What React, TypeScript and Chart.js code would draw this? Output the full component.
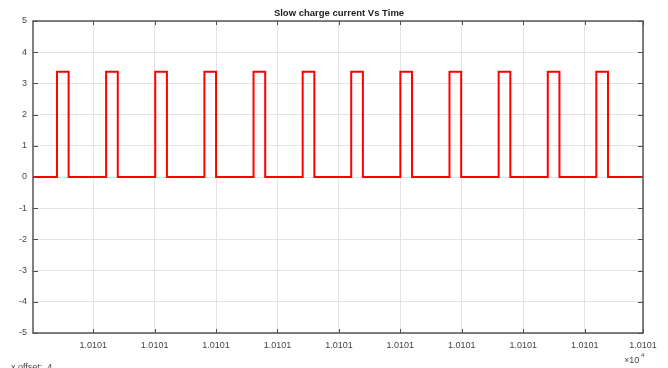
import React, { useEffect, useRef } from "react";
import { Chart, registerables } from "chart.js";

Chart.register(...registerables);

const titleText = "Slow charge current Vs Time";
const xMin = 0.02;
const xMax = 9.95;
const xTickValues = [1, 2, 3, 4, 5, 6, 7, 8, 9, 9.95];
const xTickLabel = "1.0101";
const yMin = -5;
const yMax = 5;
const riseTimes = [0.41, 1.21, 2.01, 2.81, 3.61, 4.41, 5.2, 6.0, 6.8, 7.6, 8.4, 9.19];
const fallTimes = [0.6, 1.4, 2.2, 3.0, 3.8, 4.6, 5.39, 6.19, 6.99, 7.79, 8.59, 9.38];
const lowLevel = 0;
const highLevel = 3.37;

function buildPoints() {
  const pts: { x: number; y: number }[] = [{ x: xMin, y: lowLevel }];
  riseTimes.forEach((r, i) => {
    const f = fallTimes[i];
    pts.push({ x: r, y: lowLevel }, { x: r, y: highLevel }, { x: f, y: highLevel }, { x: f, y: lowLevel });
  });
  pts.push({ x: xMax, y: lowLevel });
  return pts;
}

const FONT = "'Liberation Sans', Arial, sans-serif";

const framePlugin = {
  id: "frame",
  afterDraw(chart: any) {
    const { ctx, chartArea } = chart;
    const { left, right, top, bottom } = chartArea;
    const xs = chart.scales.x;
    const ys = chart.scales.y;
    ctx.save();
    ctx.strokeStyle = "#4d4d4d";
    ctx.lineWidth = 1;
    ctx.beginPath();
    xs.ticks.forEach((t: any) => {
      const px = Math.round(xs.getPixelForValue(t.value)) + 0.5;
      ctx.moveTo(px, bottom);
      ctx.lineTo(px, bottom - 4);
      ctx.moveTo(px, top);
      ctx.lineTo(px, top + 4);
    });
    ys.ticks.forEach((t: any) => {
      const py = Math.round(ys.getPixelForValue(t.value)) + 0.5;
      ctx.moveTo(left, py);
      ctx.lineTo(left + 5, py);
      ctx.moveTo(right, py);
      ctx.lineTo(right - 5, py);
    });
    ctx.stroke();
    ctx.lineWidth = 1.5;
    ctx.strokeStyle = "#555";
    ctx.strokeRect(left, top, right - left, bottom - top);
    ctx.fillStyle = "#222";
    ctx.font = `bold 9.5px ${FONT}`;
    ctx.textAlign = "center";
    ctx.textBaseline = "middle";
    ctx.fillText(titleText, 339, 13);
    ctx.font = `9px ${FONT}`;
    ctx.fillStyle = "#444";
    ctx.textAlign = "left";
    ctx.fillText("\u00d710", 624, 361);
    ctx.font = `6px ${FONT}`;
    ctx.fillText("4", 641, 355);
    ctx.font = `9px ${FONT}`;
    ctx.fillText("x offset:  4", 11, 368);
    ctx.restore();
  },
};

export default function App() {
  const ref = useRef<HTMLCanvasElement>(null);
  useEffect(() => {
    document.body.style.margin = "0";
    const chart = new Chart(ref.current!, {
      type: "line",
      data: {
        datasets: [
          {
            data: buildPoints(),
            borderColor: "#ff0000",
            borderWidth: 2,
            pointRadius: 0,
            tension: 0,
            fill: false,
          },
        ],
      },
      options: {
        animation: false,
        responsive: false,
        maintainAspectRatio: false,
        layout: { padding: { top: 21, right: 25, left: 0, bottom: 0 } },
        plugins: { legend: { display: false }, tooltip: { enabled: false }, title: { display: false } },
        scales: {
          x: {
            type: "linear",
            min: xMin,
            max: xMax,
            afterBuildTicks: (scale: any) => {
              scale.ticks = xTickValues.map((v) => ({ value: v }));
            },
            afterFit: (scale: any) => {
              scale.height = 35;
            },
            grid: { color: "#e3e3e3", lineWidth: 1, drawTicks: false },
            border: { display: false },
            ticks: {
              autoSkip: false,
              maxRotation: 0,
              padding: 7,
              color: "#444",
              font: { family: FONT, size: 9 },
              callback: () => xTickLabel,
            },
          },
          y: {
            type: "linear",
            min: yMin,
            max: yMax,
            afterFit: (scale: any) => {
              scale.width = 33;
            },
            grid: { color: "#e3e3e3", lineWidth: 1, drawTicks: false },
            border: { display: false },
            ticks: {
              stepSize: 1,
              padding: 6,
              color: "#444",
              font: { family: FONT, size: 9 },
            },
          },
        },
      },
      plugins: [framePlugin],
    });
    return () => chart.destroy();
  }, []);
  return (
    <div style={{ position: "fixed", left: 0, top: 0, width: 668, height: 368, background: "#fff" }}>
      <canvas ref={ref} width={668} height={368} style={{ width: 668, height: 368 }} />
    </div>
  );
}
